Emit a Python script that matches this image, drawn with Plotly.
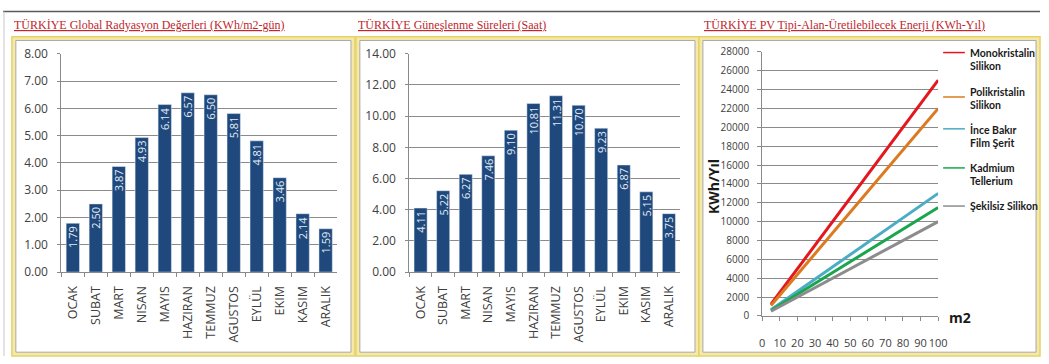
import plotly.graph_objects as go

W, H = 1049, 364

# ---------------- data ----------------
months = ["OCAK", "SUBAT", "MART", "NISAN", "MAYIS", "HAZIRAN", "TEMMUZ",
          "AGUSTOS", "EYLÜL", "EKIM", "KASIM", "ARALIK"]
radiation = [1.79, 2.50, 3.87, 4.93, 6.14, 6.57, 6.50, 5.81, 4.81, 3.46, 2.14, 1.59]
sunshine = [4.11, 5.22, 6.27, 7.46, 9.10, 10.81, 11.31, 10.70, 9.23, 6.87, 5.15, 3.75]

area_m2 = [5, 10, 20, 30, 40, 50, 60, 70, 80, 90, 100]
mono = [1250, 2500, 5000, 7500, 10000, 12500, 15000, 17500, 20000, 22500, 25000]
poly = [1100, 2200, 4400, 6600, 8800, 11000, 13200, 15400, 17600, 19800, 22000]
ince = [650, 1300, 2600, 3900, 5200, 6500, 7800, 9100, 10400, 11700, 13000]
kadmium = [575, 1150, 2300, 3450, 4600, 5750, 6900, 8050, 9200, 10350, 11500]
sekilsiz = [500, 1000, 2000, 3000, 4000, 5000, 6000, 7000, 8000, 9000, 10000]

pv_names = ["Monokristalin<br>Silikon", "Polikristalin<br>Silikon", "İnce Bakır<br>Film Şerit",
            "Kadmium<br>Tellerium", "Şekilsiz Silikon"]
pv_series = [mono, poly, ince, kadmium, sekilsiz]
pv_colors = ["#E3171E", "#DB7A1F", "#4BACC6", "#1AA64E", "#8C8C8C"]

titles = ["TÜRKİYE Global Radyasyon Değerleri (KWh/m2-gün)",
          "TÜRKİYE Güneşlenme Süreleri (Saat)",
          "TÜRKİYE PV Tipi-Alan-Üretilebilecek Enerji (KWh-Yıl)"]


def px(x):
    return x / W


def py(y):
    return 1 - y / H


BAR = "#1F497D"
YTICKFONT = dict(family="Open Sans", size=12, color="#404040")
XTICKFONT = dict(family="Open Sans", size=12.5, color="#404040")
GRID = "#8A8A8A"

fig = go.Figure()

for vals, xa, ya in [(radiation, "x", "y"), (sunshine, "x2", "y2")]:
    fig.add_trace(go.Bar(x=months, y=vals, marker_color=BAR, xaxis=xa, yaxis=ya,
                         text=[f"{v:.2f}" for v in vals], textposition="inside",
                         insidetextanchor="end", textangle=-90, constraintext="none",
                         textfont=dict(family="Open Sans", size=11, color="#E4ECF5"),
                         showlegend=False))
for name, ys, col in zip(pv_names, pv_series, pv_colors):
    fig.add_trace(go.Scatter(x=area_m2, y=ys, mode="lines", name=name,
                             line=dict(color=col, width=3), xaxis="x3", yaxis="y3",
                             showlegend=False))

bar_x_common = dict(type="category", showline=True, linecolor=GRID, ticks="outside",
                    tickson="boundaries", ticklen=4, tickcolor=GRID, tickangle=-90,
                    tickfont=XTICKFONT, showgrid=False, ticklabelstandoff=8)
bar_y_common = dict(showline=True, linecolor=GRID, ticks="outside", ticklen=3,
                    tickcolor=GRID, tickformat=".2f", gridcolor=GRID, gridwidth=1,
                    tickfont=YTICKFONT, zeroline=False, ticklabelstandoff=7)

fig.update_layout(
    width=W, height=H, margin=dict(l=0, r=0, t=0, b=0),
    paper_bgcolor="white", plot_bgcolor="rgba(0,0,0,0)",
    bargap=0.42,
    xaxis=dict(domain=[px(59), px(338)], anchor="y", **bar_x_common),
    yaxis=dict(domain=[py(276), py(47)], anchor="x", range=[0, 8], dtick=1, **bar_y_common),
    xaxis2=dict(domain=[px(411), px(685)], anchor="y2", **bar_x_common),
    yaxis2=dict(domain=[py(276), py(47)], anchor="x2", range=[0, 14], dtick=2, **bar_y_common),
    xaxis3=dict(domain=[px(768), px(946)], anchor="y3", range=[0, 100], dtick=10,
                tickangle=0,
                showline=True, linecolor=GRID, ticks="outside", ticklen=4, tickcolor=GRID,
                showgrid=False, zeroline=False, ticklabelstandoff=13,
                tickfont=dict(family="Open Sans", size=11, color="#404040")),
    yaxis3=dict(domain=[py(322), py(45)], anchor="x3", range=[0, 28000], dtick=2000,
                tickformat="d",
                showline=True, linecolor=GRID, ticks="outside", ticklen=4, tickcolor=GRID,
                gridcolor=GRID, zeroline=False, ticklabelstandoff=6,
                tickfont=dict(family="Open Sans", size=10, color="#404040")),
)

shapes = []
shapes.append(dict(type="line", xref="paper", yref="paper", x0=0, x1=1, y0=py(2.5), y1=py(2.5),
                   line=dict(color="#5A5A5A", width=1.5), layer="below"))
shapes.append(dict(type="line", xref="paper", yref="paper", x0=px(1), x1=px(1), y0=py(2.5), y1=0,
                   line=dict(color="#C8C8C8", width=1), layer="below"))
panels = [((9, 356), (13, 352)), ((357, 704), (361, 700)), ((704, 1049), (708, 1045))]
for (ox0, ox1), (ix0, ix1) in panels:
    shapes.append(dict(type="rect", xref="paper", yref="paper",
                       x0=px(ox0), x1=px(ox1), y0=py(29), y1=py(364),
                       fillcolor="#F4E9A8", line=dict(color="#E6D26A", width=1.5), layer="below"))
    shapes.append(dict(type="rect", xref="paper", yref="paper",
                       x0=px(ix0), x1=px(ix1), y0=py(33), y1=py(360),
                       fillcolor="white", line=dict(color="#A8A8A8", width=1), layer="below"))

annotations = []
title_x = [9, 357, 707]
for t, tx in zip(titles, title_x):
    annotations.append(dict(text=f"<u>{t}</u>", xref="paper", yref="paper",
                            x=px(tx), y=py(17), xanchor="left", yanchor="middle",
                            showarrow=False,
                            font=dict(family="Liberation Serif", size=12, color="#C0272D",
                                      weight=500)))

annotations.append(dict(text="<b>KWh/Yıl</b>", xref="paper", yref="paper", x=px(719), y=py(186),
                        textangle=-90, showarrow=False, xanchor="center", yanchor="middle",
                        font=dict(family="Open Sans", size=14, color="#1A1A1A")))
annotations.append(dict(text="<b>m2</b>", xref="paper", yref="paper", x=px(955), y=py(324),
                        showarrow=False, xanchor="left", yanchor="middle",
                        font=dict(family="Open Sans", size=14, color="#1A1A1A")))

leg_line_y = [45.7, 92.3, 125.7, 166.7, 206.7]
leg_text_y = [(45.7, 60), (86.7, 100.7), (126.7, 140.5), (166.7, 180.7), (207,)]
for name, col, ly, tys in zip(pv_names, pv_colors, leg_line_y, leg_text_y):
    shapes.append(dict(type="line", xref="paper", yref="paper", x0=px(951), x1=px(973),
                       y0=py(ly), y1=py(ly), line=dict(color=col, width=1.5)))
    for part, ty in zip(name.split("<br>"), tys):
        annotations.append(dict(text=f"<b>{part}</b>", xref="paper", yref="paper",
                                x=px(976), y=py(ty), xanchor="left", yanchor="middle",
                                showarrow=False,
                                font=dict(family="Lato", size=10.5, color="#1A1A1A")))

fig.update_layout(shapes=shapes, annotations=annotations)
fig.write_html("out.html")
